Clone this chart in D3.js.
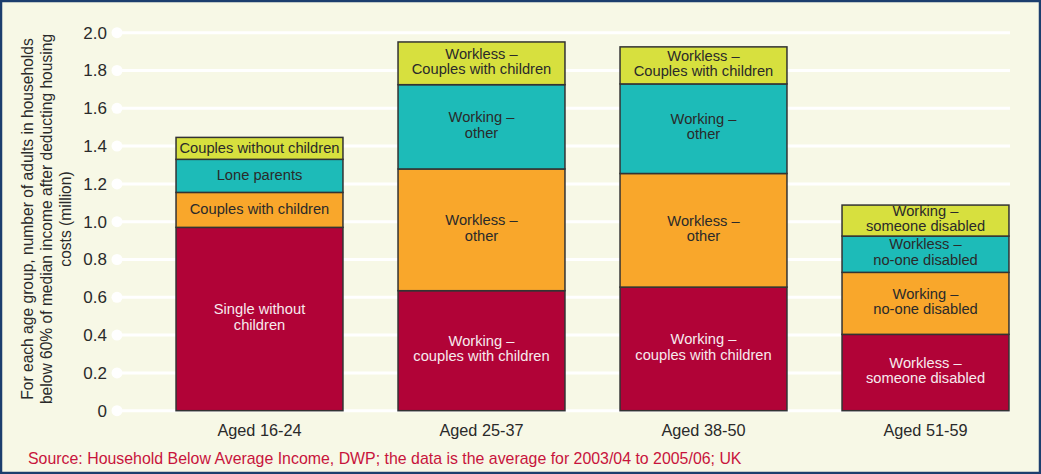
<!DOCTYPE html>
<html lang="en">
<head>
  <meta charset="UTF-8">
  <title>Adults below 60% of median income by age group</title>
  <script src="https://d3js.org/d3.v7.min.js"></script>
  <style>
    body {
      margin: 0;
      padding: 0;
      background: #f7f8e6;
      font-family: "Liberation Sans", Arial, sans-serif;
    }
    svg { display: block; }
    .tick-label { font-size: 17px; fill: #2a2a2a; }
    .cat-label { font-size: 16.3px; fill: #2a2a2a; }
    .seg-label { font-size: 14.7px; }
    .y-title { font-size: 15.6px; fill: #2a2a2a; }
    .source { font-size: 15.9px; fill: #c8143c; }
  </style>
</head>
<body>
  <div id="chart"></div>

  <script>
  // age groups (x categories)
  const ageGroups = ["Aged 16-24", "Aged 25-37", "Aged 38-50", "Aged 51-59"];

  // stack levels, bottom to top (million adults)
  const level1 = [0.970, 0.635, 0.654, 0.404];
  const level2 = [0.185, 0.644, 0.601, 0.328];
  const level3 = [0.175, 0.446, 0.474, 0.192];
  const level4 = [0.116, 0.226, 0.196, 0.164];

  // segment labels for each level, one per age group
  const level1Labels = [["Single without", "children"], ["Working \u2013", "couples with children"], ["Working \u2013", "couples with children"], ["Workless \u2013", "someone disabled"]];
  const level2Labels = [["Couples with children"], ["Workless \u2013", "other"], ["Workless \u2013", "other"], ["Working \u2013", "no-one disabled"]];
  const level3Labels = [["Lone parents"], ["Working \u2013", "other"], ["Working \u2013", "other"], ["Workless \u2013", "no-one disabled"]];
  const level4Labels = [["Couples without children"], ["Workless \u2013", "Couples with children"], ["Workless \u2013", "Couples with children"], ["Working \u2013", "someone disabled"]];

  const yTicks = [0, 0.2, 0.4, 0.6, 0.8, 1.0, 1.2, 1.4, 1.6, 1.8, 2.0];
  const yTitle = ["For each age group, number of adults in households",
                  "below 60% of median income after deducting housing",
                  "costs (million)"];
  const sourceText = "Source: Household Below Average Income, DWP; the data is the average for 2003/04 to 2005/06; UK";

  const levelColors = ["#b10337", "#f9a72b", "#1dbbb8", "#d7e03e"];
  const levelTextColors = ["#f7eaee", "#2a2a2a", "#2a2a2a", "#2a2a2a"];

  const width = 1041, height = 474;
  const svg = d3.select("#chart").append("svg")
    .attr("width", width).attr("height", height);

  svg.append("rect")
    .attr("x", 1).attr("y", 1).attr("width", width - 2).attr("height", height - 2)
    .attr("fill", "#f7f8e6").attr("stroke", "#1c3e6e").attr("stroke-width", 2.5);

  const levels = [level1, level2, level3, level4];
  const labels = [level1Labels, level2Labels, level3Labels, level4Labels];
  const table = ageGroups.map((g, i) => {
    const row = { group: g };
    levels.forEach((l, k) => row["l" + k] = l[i]);
    return row;
  });
  const keys = levels.map((l, k) => "l" + k);
  const series = d3.stack().keys(keys)(table);

  const x = d3.scaleBand()
    .domain(ageGroups)
    .range([148.5, 1036.5])
    .paddingInner(0.248)
    .paddingOuter(0.124);

  const y = d3.scaleLinear().domain([0, 2]).range([410.7, 32.7]);

  const gridX0 = 117, gridX1 = 1010;

  // gridlines with dots
  const grid = svg.append("g");
  grid.selectAll("line").data(yTicks).join("line")
    .attr("x1", gridX0).attr("x2", gridX1)
    .attr("y1", d => y(d)).attr("y2", d => y(d))
    .attr("stroke", "#fff").attr("stroke-width", 3);
  grid.selectAll("circle").data(yTicks).join("circle")
    .attr("cx", gridX0).attr("cy", d => y(d)).attr("r", 5.5)
    .attr("fill", "#fff");

  // y axis labels
  const yAxis = d3.axisLeft(y)
    .tickValues(yTicks)
    .tickFormat(d => d === 0 ? "0" : d3.format(".1f")(d))
    .tickSize(0).tickPadding(0);
  const ya = svg.append("g").attr("transform", "translate(107,0)").call(yAxis);
  ya.select(".domain").remove();
  ya.selectAll("text").attr("class", "tick-label").attr("font-family", null).attr("font-size", null);

  // bars
  const barG = svg.append("g");
  series.forEach((s, k) => {
    barG.append("g").selectAll("rect").data(s).join("rect")
      .attr("x", d => x(d.data.group))
      .attr("width", x.bandwidth())
      .attr("y", d => y(d[1]))
      .attr("height", d => y(d[0]) - y(d[1]))
      .attr("fill", levelColors[k])
      .attr("stroke", "#333")
      .attr("stroke-width", 1.5);
  });

  // segment labels
  series.forEach((s, k) => {
    s.forEach((d, i) => {
      const lines = labels[k][i];
      const cx = x(d.data.group) + x.bandwidth() / 2;
      const cy = (y(d[0]) + y(d[1])) / 2;
      const lh = 15.5;
      const t = svg.append("text")
        .attr("class", "seg-label")
        .attr("text-anchor", "middle")
        .attr("fill", levelTextColors[k]);
      lines.forEach((ln, j) => {
        t.append("tspan")
          .attr("x", cx)
          .attr("y", cy + (j - (lines.length - 1) / 2) * lh + (lines.length > 1 ? 3 : 4.5))
          .text(ln);
      });
    });
  });

  // x labels
  svg.append("g").selectAll("text").data(ageGroups).join("text")
    .attr("class", "cat-label")
    .attr("x", d => x(d) + x.bandwidth() / 2)
    .attr("y", 436)
    .attr("text-anchor", "middle")
    .text(d => d);

  // y title
  const yt = svg.append("text")
    .attr("class", "y-title")
    .attr("transform", "translate(0,219) rotate(-90)")
    .attr("text-anchor", "middle");
  yTitle.forEach((ln, j) => {
    yt.append("tspan").attr("x", 0).attr("y", 33 + j * 19).text(ln);
  });

  svg.append("text")
    .attr("class", "source")
    .attr("x", 28).attr("y", 464)
    .text(sourceText);
  </script>
</body>
</html>
